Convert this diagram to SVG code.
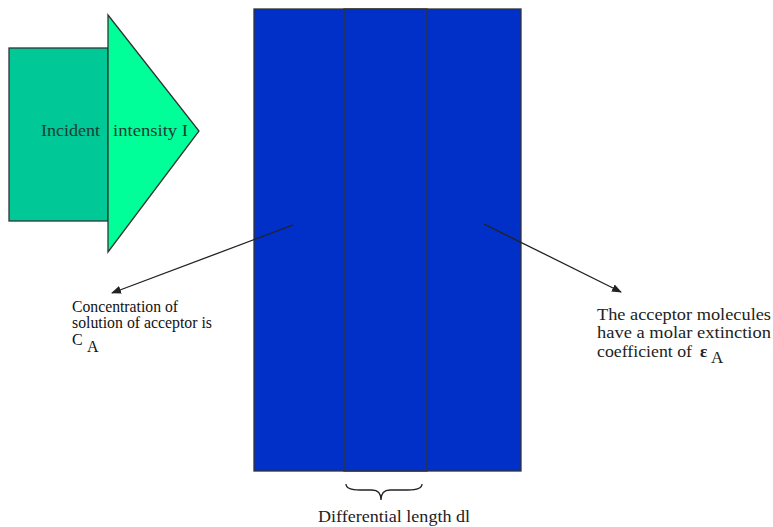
<svg xmlns="http://www.w3.org/2000/svg" width="773" height="527" viewBox="0 0 773 527">
  <style>
    .cm { font-family: "Liberation Serif", "DejaVu Serif", serif; font-size: 17px; fill: #222; }
    .tm { font-family: "Liberation Serif", serif; font-size: 16px; fill: #111; }
    .edge { stroke: #222; stroke-width: 1.3; fill: none; }
  </style>
  <defs>
    <marker id="arrow" viewBox="0 0 10 10" refX="9" refY="5" markerWidth="10" markerHeight="10" markerUnits="userSpaceOnUse" orient="auto">
      <path d="M0,1 L10,5 L0,9 Z" fill="#222"/>
    </marker>
  </defs>

  <!-- incident light arrow -->
  <g id="incident">
    <rect x="9" y="48" width="99" height="173" fill="#00C896" stroke="#333" stroke-width="1.3"/>
    <polygon points="108,15 199,131 108,252" fill="#00FF99" stroke="#333" stroke-width="1.3"/>
    <text class="cm" x="41" y="136" textLength="59" lengthAdjust="spacingAndGlyphs" style="fill:#1d3d35">Incident</text>
    <text class="cm" x="113" y="136" textLength="75" lengthAdjust="spacingAndGlyphs" style="fill:#1d3d35">intensity I</text>
  </g>

  <!-- sample cell -->
  <g id="cell">
    <rect x="254" y="9" width="267" height="462" fill="#0030C8" stroke="#333" stroke-width="1.3"/>
  </g>
  <g id="slice">
    <rect x="344" y="9" width="83" height="462" fill="#0030C8" stroke="#333" stroke-width="1.3"/>
  </g>

  <!-- connectors -->
  <g id="connectors">
    <line class="edge" x1="293" y1="225" x2="112" y2="293" marker-end="url(#arrow)"/>
    <line class="edge" x1="484" y1="224" x2="621" y2="292" marker-end="url(#arrow)"/>
    <path class="edge" d="M346,484 Q346,490 360,490 L372,490 Q381,490 381,500 Q381,490 390,490 L408,490 Q422,490 422,484"/>
  </g>

  <!-- labels -->
  <g id="concentration">
    <text class="tm" x="72" y="312" textLength="106" lengthAdjust="spacingAndGlyphs">Concentration of</text>
    <text class="tm" x="72" y="328" textLength="140" lengthAdjust="spacingAndGlyphs">solution of acceptor is</text>
    <text class="tm" x="72" y="345" font-size="12">C</text>
    <text class="tm" x="87" y="352" font-size="15">A</text>
  </g>
  <g id="extinction">
    <text class="cm" x="597" y="320" textLength="174" lengthAdjust="spacingAndGlyphs">The acceptor molecules</text>
    <text class="cm" x="597" y="338" textLength="174" lengthAdjust="spacingAndGlyphs">have a molar extinction</text>
    <text class="cm" x="597" y="357" textLength="95" lengthAdjust="spacingAndGlyphs">coefficient of</text>
    <text class="cm" x="700" y="357" font-weight="bold" font-size="18">ε</text>
    <text class="cm" x="711" y="363" font-size="14">A</text>
  </g>
  <g id="length">
    <text class="cm" x="318" y="522" textLength="152" lengthAdjust="spacingAndGlyphs">Differential length dl</text>
  </g>
</svg>
